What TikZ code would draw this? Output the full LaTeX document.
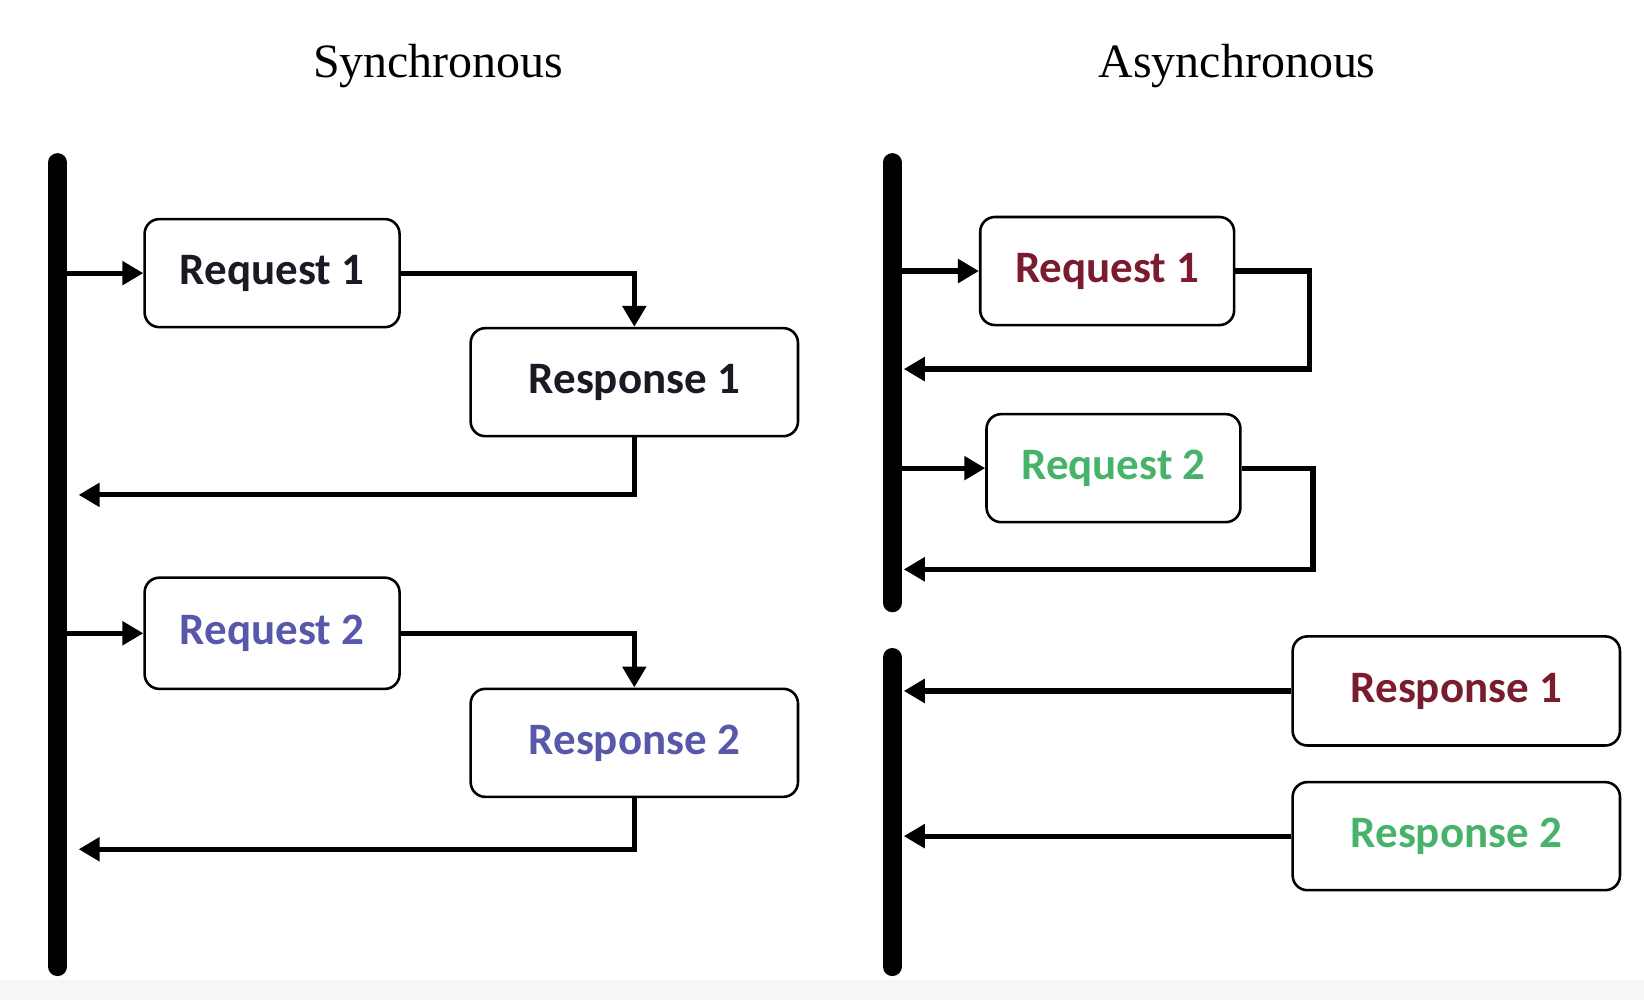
\documentclass[tikz,border=0pt]{standalone}
\usepackage{fontspec}
\setmainfont{Liberation Serif}
\newfontfamily\boxfont{Carlito}
\usetikzlibrary{arrows.meta}
\definecolor{msgblack}{RGB}{26,26,36}
\definecolor{msgblue}{RGB}{88,88,170}
\definecolor{msgred}{RGB}{120,28,46}
\definecolor{msggreen}{RGB}{70,178,106}
\newcommand*{\msgbox}[6]{% name, centre, width, height, colour, text
    \node (#1) at (#2) [msgnode, minimum width=#3cm, minimum height=#4cm, text=#5] {#6};}
\newcommand*{\bus}[3]{\draw [busline] (#1,#2) -- (#1,#3);}

\begin{document}
\begin{tikzpicture}[x=0.01cm, y=-0.01cm,
    msgnode/.style={draw, line width=0.7pt, rounded corners=0.14cm, inner sep=0pt,
        font=\boxfont\bfseries\fontsize{12.2}{14}\selectfont},
    busline/.style={line width=5.1pt, line cap=round},
    msg/.style={line width=1.4pt, -{Triangle[length=0.2cm, width=0.22cm]}},
    heading/.style={font=\fontsize{13}{15}\selectfont}]
\fill [gray!7] (0,935) rectangle (1568,954);
\useasboundingbox (0,0) rectangle (1568,954);

\node [heading] (synctitle) at (418,63) {Synchronous};
\node [heading] (asynctitle) at (1180,63) {Asynchronous};

% synchronous
\msgbox{sreq1}{259.5,260.5}{2.43}{1.03}{msgblack}{Request 1}
\msgbox{sres1}{605,364.5}{3.12}{1.03}{msgblack}{Response 1}
\msgbox{sreq2}{259.5,604}{2.43}{1.06}{msgblue}{Request 2}
\msgbox{sres2}{605,708.5}{3.12}{1.03}{msgblue}{Response 2}
\coordinate (sbus) at (60,0);
\coordinate (sback1) at (75,472);
\coordinate (sback2) at (75,810);
\draw [msg] (sreq1.west -| sbus) -- (sreq1.west);
\draw [msg] (sreq1.east) -| (sres1.north);
\draw [msg] (sres1.south) |- (sback1);
\draw [msg] (sreq2.west -| sbus) -- (sreq2.west);
\draw [msg] (sreq2.east) -| (sres2.north);
\draw [msg] (sres2.south) |- (sback2);

% asynchronous
\msgbox{areq1}{1056,258.5}{2.42}{1.03}{msgred}{Request 1}
\msgbox{areq2}{1062,446.5}{2.42}{1.03}{msggreen}{Request 2}
\msgbox{ares1}{1389,659}{3.12}{1.04}{msgred}{Response 1}
\msgbox{ares2}{1389,797.5}{3.12}{1.03}{msggreen}{Response 2}
\coordinate (abus) at (856,0);
\coordinate (aedge) at (862,0);
\coordinate (aback1) at (862,352);
\coordinate (aback2) at (862,543);
\draw [msg] (areq1.west -| abus) -- (areq1.west);
\draw [msg] (areq1.east) -- ++(71,0) |- (aback1);
\draw [msg] (areq2.west -| abus) -- (areq2.west);
\draw [msg] (areq2.east) -- ++(68,0) |- (aback2);
\draw [msg] (ares1.west) -- (ares1.west -| aedge);
\draw [msg] (ares2.west) -- (ares2.west -| aedge);

\bus{55}{155}{922}
\bus{851}{155}{575}
\bus{851}{627}{922}
\end{tikzpicture}
\end{document}
